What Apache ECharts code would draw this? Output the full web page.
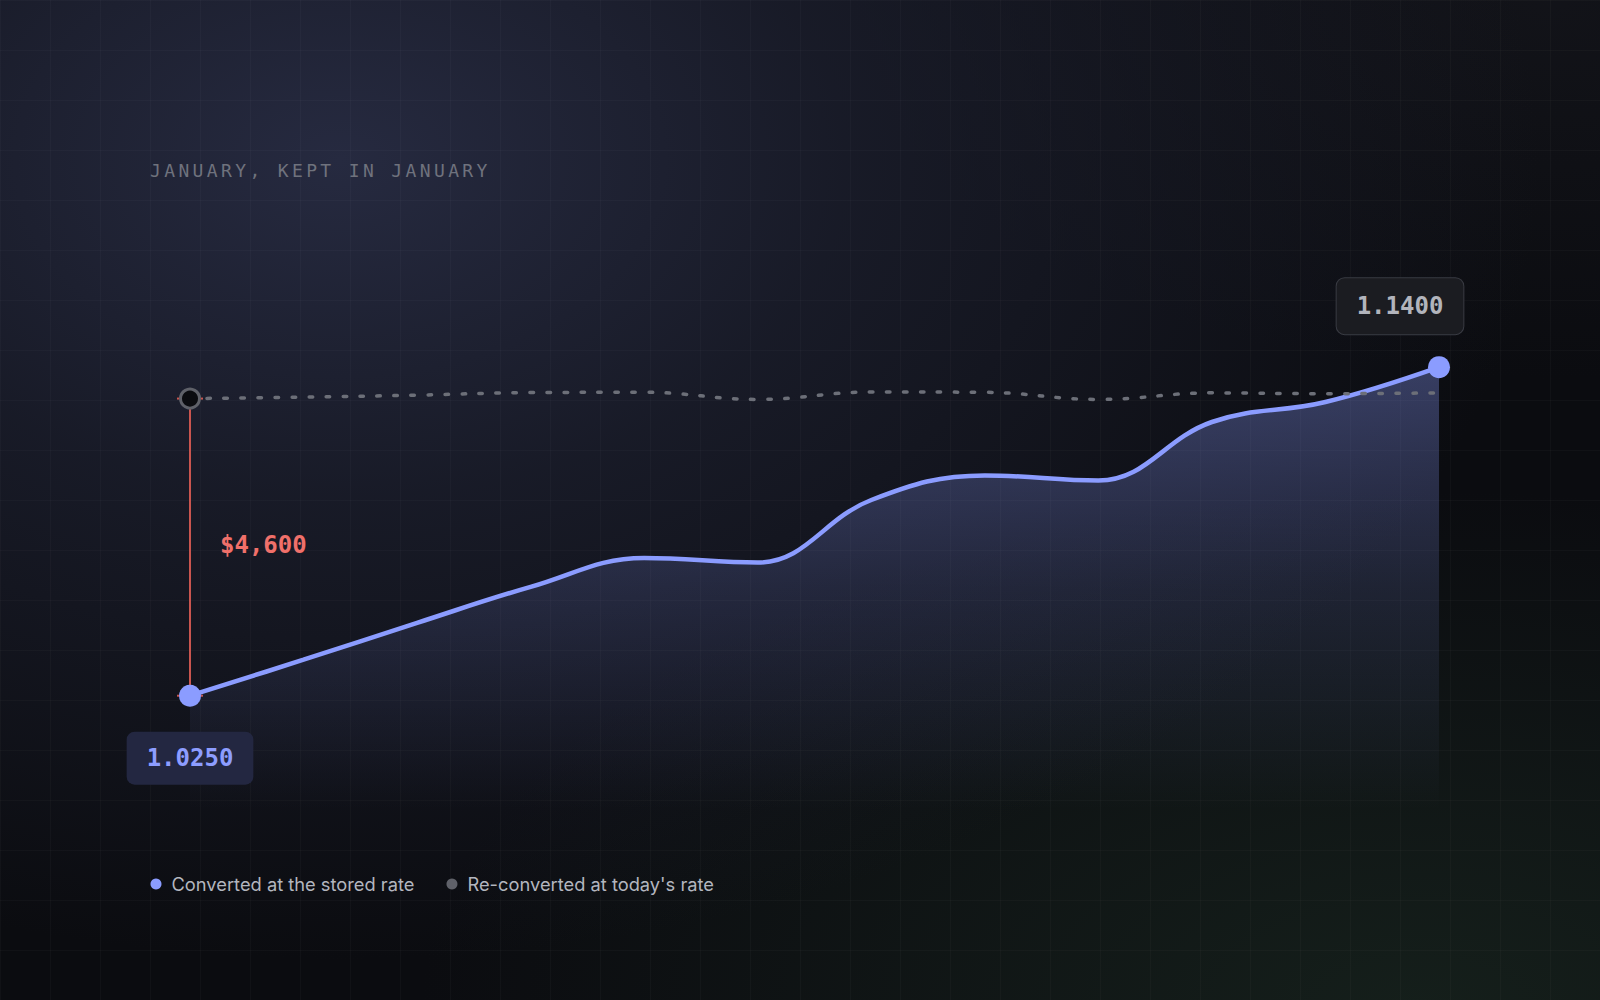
<!DOCTYPE html>
<html>
<head>
<meta charset="utf-8">
<script src="https://cdn.jsdelivr.net/npm/echarts@6/dist/echarts.min.js"></script>
<style>
  html, body { margin: 0; padding: 0; }
  body {
    width: 1600px; height: 1000px; overflow: hidden; position: relative;
    background-color: #0b0c10;
    background-image:
      linear-gradient(rgba(255,255,255,0.022) 1px, transparent 1px),
      linear-gradient(90deg, rgba(255,255,255,0.022) 1px, transparent 1px),
      radial-gradient(ellipse 1200px 800px at 340px 160px, rgba(38,42,64,1) 0%, rgba(29,32,48,0.72) 42%, rgba(11,12,16,0) 100%),
      radial-gradient(ellipse 700px 380px at 1550px 0px, rgba(24,25,32,0.55) 0%, rgba(11,12,16,0) 100%),
      radial-gradient(ellipse 1000px 520px at 1420px 1010px, rgba(22,33,28,0.9) 0%, rgba(11,12,16,0) 100%);
    background-size: 50px 50px, 50px 50px, 100% 100%, 100% 100%, 100% 100%;
  }
  #chart { position: absolute; left: 0; top: 0; width: 1600px; height: 1000px; }
  #title {
    position: absolute; left: 150px; top: 161px; height: 20px; line-height: 20px;
    font-family: "DejaVu Sans Mono", monospace; font-size: 18px; letter-spacing: 3.36px;
    color: #6f727d; white-space: nowrap;
  }
</style>
</head>
<body>
<div id="chart"></div>
<div id="title"></div>
<script>
// ---- data ----
const titleText = 'JANUARY, KEPT IN JANUARY';
const days = ['Jan 2', 'Jan 5', 'Jan 7', 'Jan 9', 'Jan 12', 'Jan 14', 'Jan 16', 'Jan 19', 'Jan 21', 'Jan 23', 'Jan 27', 'Jan 30'];
const storedRate = [1.0250, 1.0376, 1.0505, 1.0631, 1.0732, 1.0716, 1.0935, 1.1021, 1.1003, 1.1208, 1.1278, 1.1400];
const todayRate  = [1.1290, 1.1295, 1.1302, 1.1311, 1.1312, 1.1287, 1.1313, 1.1312, 1.1287, 1.1310, 1.1307, 1.1310];
const seriesNames = ['Converted at the stored rate', "Re-converted at today's rate"];
const startLabel = '1.0250';
const endLabel = '1.1400';
const gapLabel = '$4,600';

document.getElementById('title').textContent = titleText;

const BLUE = '#8b9cff';
const GREY = '#6c6f78';
const RED = '#c9554f';
const MONO = '"DejaVu Sans Mono", monospace';
const last = storedRate.length - 1;

const blueData = storedRate.map((v, i) => {
  if (i === 0) {
    return {
      value: v, symbol: 'circle', symbolSize: 22,
      label: {
        show: true, position: 'bottom', distance: 25, formatter: startLabel,
        color: '#8d9dff', fontFamily: MONO, fontWeight: 'bold', fontSize: 24, lineHeight: 29,
        backgroundColor: '#232741', borderRadius: 8, padding: [12, 20]
      }
    };
  }
  if (i === last) {
    return {
      value: v, symbol: 'circle', symbolSize: 22,
      label: {
        show: true, position: 'top', distance: 22, offset: [-39, 0], formatter: endLabel,
        color: '#b2b4bc', fontFamily: MONO, fontWeight: 'bold', fontSize: 24, lineHeight: 30,
        backgroundColor: '#1b1c21', borderColor: '#393b43', borderWidth: 1, borderRadius: 8, padding: [13, 20]
      }
    };
  }
  return v;
});

const greyData = todayRate.map((v, i) => {
  if (i === 0) {
    return {
      value: v, symbol: 'circle', symbolSize: 19,
      itemStyle: { color: '#0b0c10', borderColor: '#5f6169', borderWidth: 3 }
    };
  }
  return v;
});

const chart = echarts.init(document.getElementById('chart'), null, { renderer: 'svg', width: 1600, height: 1000 });

chart.setOption({
  animation: false,
  backgroundColor: 'transparent',
  grid: { left: 190, right: 161, top: 310, bottom: 190, containLabel: false },
  xAxis: {
    type: 'category', data: days, boundaryGap: false, show: false
  },
  yAxis: {
    type: 'value', min: 0.985, max: 1.16, show: false, splitLine: { show: false }
  },
  legend: {
    left: 145.5, top: 869, itemWidth: 21, itemHeight: 11, itemGap: 32,
    icon: 'circle', selectedMode: false,
    itemStyle: { borderWidth: 0 },
    textStyle: { color: '#b3b6bf', fontSize: 18.3, fontFamily: 'Inter', lineHeight: 20 },
    data: [
      { name: seriesNames[0], icon: 'circle', itemStyle: { color: BLUE } },
      { name: seriesNames[1], icon: 'circle', itemStyle: { color: '#5f6169' } }
    ]
  },
  series: [
    {
      type: 'custom', name: 'gap', silent: true, z: 1,
      data: [[0, todayRate[0], storedRate[0]]],
      renderItem: function (params, api) {
        const top = api.coord([api.value(0), api.value(1)]);
        const bot = api.coord([api.value(0), api.value(2)]);
        const st = { stroke: RED, lineWidth: 2 };
        return {
          type: 'group',
          children: [
            { type: 'line', shape: { x1: top[0], y1: top[1], x2: bot[0], y2: bot[1] }, style: st },
            { type: 'line', shape: { x1: top[0] - 13, y1: top[1], x2: top[0] + 13, y2: top[1] }, style: st },
            { type: 'line', shape: { x1: bot[0] - 13, y1: bot[1], x2: bot[0] + 13, y2: bot[1] }, style: st },
            {
              type: 'text', x: top[0] + 30, y: (top[1] + bot[1]) / 2 - 2,
              style: { text: gapLabel, fill: '#f0706a', font: 'bold 24px ' + MONO, align: 'left', verticalAlign: 'middle' }
            }
          ]
        };
      }
    },
    {
      type: 'line', name: seriesNames[0], z: 3,
      data: blueData, smooth: 0.4, symbol: 'none', showAllSymbol: true,
      lineStyle: { color: BLUE, width: 4.5 },
      itemStyle: { color: BLUE },
      emphasis: { disabled: true },
      areaStyle: {
        origin: 'start', opacity: 1,
        color: new echarts.graphic.LinearGradient(0, 0, 0, 1, [
          { offset: 0, color: 'rgba(139,156,255,0.34)' },
          { offset: 0.5, color: 'rgba(139,156,255,0.14)' },
          { offset: 1, color: 'rgba(139,156,255,0)' }
        ])
      }
    },
    {
      type: 'line', name: seriesNames[1], z: 4,
      data: greyData, smooth: 0.4, symbol: 'none', showAllSymbol: true,
      lineStyle: { color: GREY, width: 3.5, type: [3.5, 13.5], cap: 'round' },
      itemStyle: { color: '#5f6169' },
      emphasis: { disabled: true }
    }
  ]
});
</script>
</body>
</html>
